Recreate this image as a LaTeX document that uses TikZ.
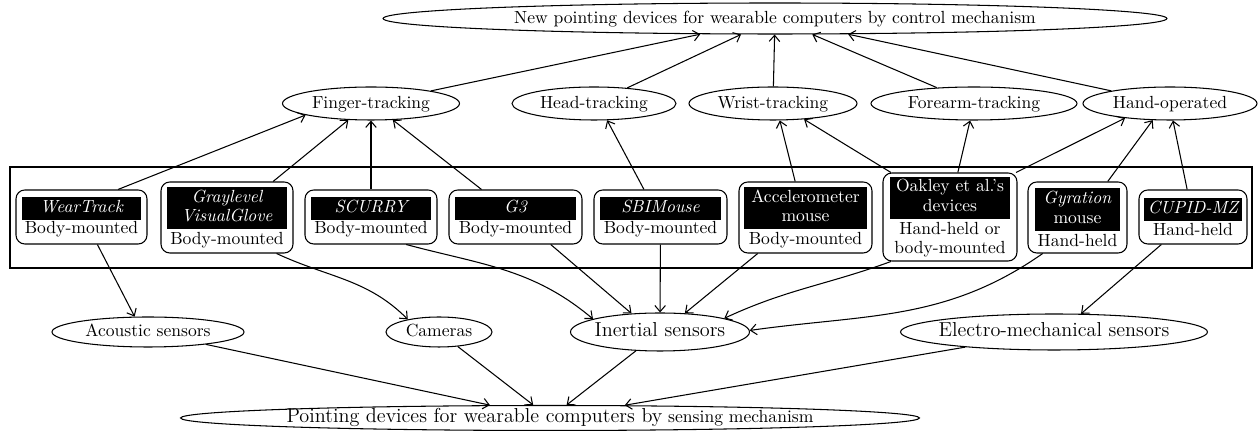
\documentclass[tikz,border=0pt]{standalone}
\usepackage{xcolor}
\usepackage{tikz}
\usetikzlibrary{arrows.meta,
                shapes.geometric}

\setlength{\fboxsep}{1pt}
\newcommand{\devtag}[2]{\colorbox{black}{\parbox{\dimexpr#1-2\fboxsep\relax}{\centering\color{white}\strut#2\strut}}}

\tikzset{
  oval/.style={ellipse, draw, line width=0.6pt, inner sep=0pt, inner xsep=-3em,
               text height=1.5ex, text depth=.3ex},
  bigger/.style={font=\fontsize{11.5}{13}\selectfont},
  dev/.style={draw, rounded corners=5pt, line width=0.6pt, align=center,
              inner sep=0pt, font=\fontsize{10}{11}\selectfont},
  link/.style={line width=0.6pt, -{Straight Barb[length=3.5pt,width=6pt]}}
}

\begin{document}
\begin{tikzpicture}[x=0.02cm,y=0.02cm]
\useasboundingbox (0,0) rectangle (1259,-431);

\node[oval, minimum width=15.68cm, minimum height=0.62cm] (top) at (775,-18.5)
  {New pointing devices for wearable computers by control mechanism};
\node[oval, minimum width=3.54cm, minimum height=0.66cm] (fing) at (371,-103.5) {Finger-tracking};
\node[oval, minimum width=3.28cm, minimum height=0.66cm] (head) at (594,-103.5) {Head-tracking};
\node[oval, minimum width=3.36cm, minimum height=0.66cm] (wrist) at (773,-103.5) {Wrist-tracking};
\node[oval, minimum width=4.12cm, minimum height=0.66cm] (fore) at (974,-103.5) {Forearm-tracking};
\node[oval, minimum width=3.48cm, minimum height=0.66cm] (hand) at (1170,-103.5) {Hand-operated};

\draw[line width=0.6pt] (10,-167) rectangle (1252,-268);

\node[dev, minimum width=2.62cm, minimum height=1.08cm] (wt) at (81.5,-217)
  {\devtag{2.38cm}{\itshape WearTrack}\\[1pt]Body-mounted};
\node[dev, minimum width=2.64cm, minimum height=1.42cm] (gv) at (227,-217.5)
  {\devtag{2.40cm}{\itshape Graylevel\\VisualGlove}\\[1pt]Body-mounted};
\node[dev, minimum width=2.64cm, minimum height=1.08cm] (sc) at (371,-217)
  {\devtag{2.40cm}{\itshape SCURRY}\\[1pt]Body-mounted};
\node[dev, minimum width=2.66cm, minimum height=1.08cm] (g3) at (515.5,-217)
  {\devtag{2.42cm}{\itshape G3}\\[1pt]Body-mounted};
\node[dev, minimum width=2.66cm, minimum height=1.08cm] (sbi) at (660.5,-217)
  {\devtag{2.42cm}{\itshape SBIMouse}\\[1pt]Body-mounted};
\node[dev, minimum width=2.66cm, minimum height=1.42cm] (acc) at (805.5,-217.5)
  {\devtag{2.48cm}{Accelerometer\\mouse}\\[1pt]Body-mounted};
\node[dev, minimum width=2.68cm, minimum height=1.76cm] (oak) at (950,-217)
  {\devtag{2.40cm}{Oakley et al.'s\\devices}\\[1pt]Hand-held or\\body-mounted};
\node[dev, minimum width=1.98cm, minimum height=1.42cm] (gyr) at (1077.5,-217.5)
  {\devtag{1.72cm}{\textit{Gyration}\\mouse}\\[1pt]Hand-held};
\node[dev, minimum width=2.16cm, minimum height=1.08cm] (cup) at (1193,-217)
  {\devtag{1.98cm}{\mbox{\itshape CUPID-MZ}}\\[1pt]Hand-held};

\node[oval, minimum width=3.84cm, minimum height=0.60cm] (acou) at (148,-332) {Acoustic sensors};
\node[oval, minimum width=2.12cm, minimum height=0.60cm] (cam) at (439,-332) {Cameras};
\node[oval, bigger, minimum width=3.58cm, minimum height=0.76cm] (iner) at (660,-332) {Inertial sensors};
\node[oval, bigger, minimum width=6.14cm, minimum height=0.72cm] (elec) at (1054,-332) {Electro-mechanical sensors};
\node[oval, minimum width=14.78cm, minimum height=0.50cm] (point) at (550,-418)
  {{\fontsize{11.5}{13}\selectfont Pointing devices for wearable computers by} sensing mechanism};

\foreach \a in {fing, head, wrist, fore, hand}
  \draw[link] (\a) -- (top);

\foreach \a/\b in {wt.37/fing.190, gv.38/fing.216, sc/fing, g3.141/fing.323,
                   sbi.121/head.308, acc.106/wrist.292, oak.143/wrist.333,
                   oak.80/fore.257, oak.34/hand.198, gyr.50/hand.224, cup.102/hand.280}
  \draw[link] (\a) -- (\b);

\foreach \a/\b in {wt.300/acou.131, g3.322/iner.147, sbi/iner, acc.217/iner.37, cup.221/elec.34}
  \draw[link] (\a) -- (\b);
\draw[link] (gv.324) to[out=-25,in=135] (cam.158);
\draw[link] (sc.322) to[out=-15,in=140] (iner.169);
\draw[link] (oak.217) to[out=200,in=25] (iner.12);
\draw[link] (gyr.226) to[out=215,in=8] (iner.1);

\foreach \a in {acou, cam, iner, elec}
  \draw[link] (\a) -- (point);
\end{tikzpicture}
\end{document}
